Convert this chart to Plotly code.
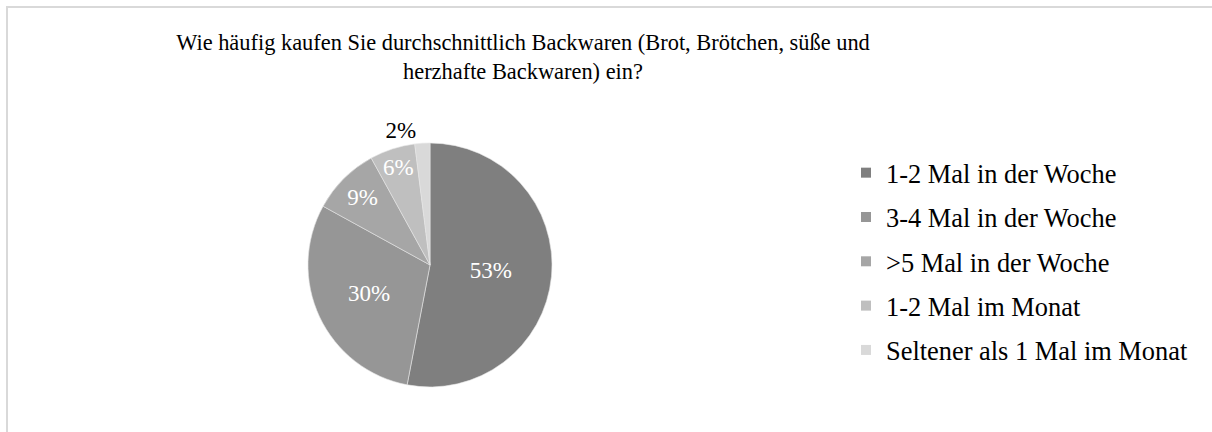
import plotly.graph_objects as go

# Survey answers and their shares (percent)
categories = [
    "1-2 Mal in der Woche",
    "3-4 Mal in der Woche",
    ">5 Mal in der Woche",
    "1-2 Mal im Monat",
    "Seltener als 1 Mal im Monat",
]
shares = [53, 30, 9, 6, 2]
slice_colors = ["#7f7f7f", "#969696", "#a6a6a6", "#bfbfbf", "#d9d9d9"]
label_positions = ["inside", "inside", "inside", "inside", "outside"]

title_text = ("Wie häufig kaufen Sie durchschnittlich Backwaren (Brot, Brötchen, süße und<br>"
              "herzhafte Backwaren) ein?")

W, H = 1212, 432
FONT = "Liberation Serif"

fig = go.Figure()

fig.add_trace(go.Pie(
    labels=categories,
    values=shares,
    sort=False,
    direction="clockwise",
    rotation=0,
    marker=dict(colors=slice_colors, line=dict(color="#e6e6e6", width=0.6)),
    texttemplate="%{value}%",
    textposition=label_positions,
    insidetextorientation="horizontal",
    insidetextfont=dict(color="white", size=23, family=FONT),
    outsidetextfont=dict(color="black", size=23, family=FONT),
    domain=dict(x=[308 / W, 552 / W], y=[45 / H, 289 / H]),
    showlegend=False,
    hoverinfo="label+percent",
))

# Legend entries, one group each so they can be spaced apart
for name, color in zip(categories, slice_colors):
    fig.add_trace(go.Scatter(
        x=[None], y=[None], mode="markers", name=name,
        marker=dict(symbol="square", size=10, color=color),
        legendgroup=name, showlegend=True,
    ))

fig.update_layout(
    width=W, height=H,
    margin=dict(l=0, r=0, t=0, b=0),
    paper_bgcolor="white",
    plot_bgcolor="white",
    font=dict(family=FONT, color="black"),
    title=dict(text=title_text, x=523 / W, xanchor="center", y=1 - 50 / H, yanchor="top",
               font=dict(size=22.4, family=FONT, color="black")),
    xaxis=dict(visible=False),
    yaxis=dict(visible=False),
    legend=dict(x=846 / W, y=1 - 149 / H, xanchor="left", yanchor="top",
                font=dict(size=26.4, family=FONT, color="black"),
                tracegroupgap=7, itemwidth=30, bgcolor="rgba(0,0,0,0)"),
    uniformtext=dict(minsize=23, mode="show"),
    shapes=[dict(type="rect", xref="paper", yref="paper",
                 x0=7 / W, x1=1.05, y0=-0.05, y1=1 - 7 / H,
                 line=dict(color="#d9d9d9", width=2), layer="below")],
)

fig.write_html("out.html")
